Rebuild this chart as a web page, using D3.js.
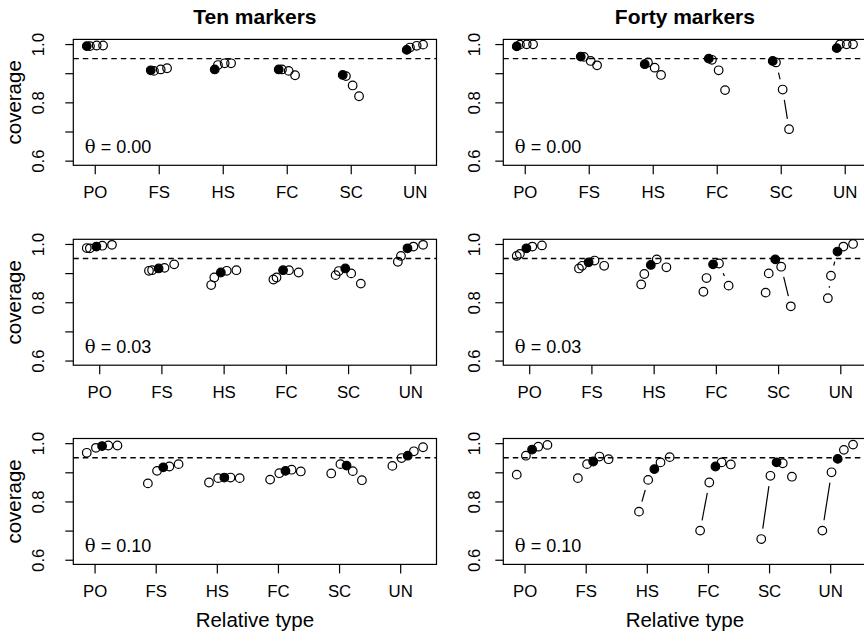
<!DOCTYPE html>
<meta charset="utf-8">
<style>
    body { margin: 0; background: #fff; }
    text { font-family: "Liberation Sans", Arial, sans-serif; fill: #000; }
    .tick text { font-size: 16.8px; }
</style>
<body>
<script src="https://d3js.org/d3.v7.min.js"></script>
<script>
    // groups on the x axis
    const groups = ["PO", "FS", "HS", "FC", "SC", "UN"];
    const colTitles = ["Ten markers", "Forty markers"];
    const thetaLabels = ["0.00", "0.03", "0.10"];
    const yTicks = [0.6, 0.7, 0.8, 0.9, 1.0];

    // horizontal offset of each point inside a group, one list per row
    const offsetsRow1 = [-0.125, -0.075, 0.03, 0.13];
    const offsetsRow2 = [-0.20, -0.15, -0.045, 0.05, 0.205];
    const offsetsRow3 = [-0.128, 0.022, 0.123, 0.224, 0.374];
    // which point is drawn solid, per row
    const filledIndex = [0, 2, 2];

    // coverage, one list per group (PO, FS, HS, FC, SC, UN)
    const ten00 = [
        [0.993, 0.993, 0.995, 0.995],
        [0.910, 0.908, 0.913, 0.917],
        [0.913, 0.928, 0.934, 0.934],
        [0.913, 0.913, 0.908, 0.893],
        [0.894, 0.890, 0.858, 0.821],
        [0.980, 0.988, 0.994, 0.998]
    ];
    const forty00 = [
        [0.992, 0.998, 0.999, 0.999],
        [0.957, 0.956, 0.942, 0.927],
        [0.931, 0.937, 0.919, 0.894],
        [0.950, 0.946, 0.910, 0.842],
        [0.942, 0.937, 0.844, 0.708],
        [0.986, 0.999, 0.999, 0.999]
    ];
    const ten03 = [
        [0.986, 0.985, 0.991, 0.994, 0.997],
        [0.908, 0.910, 0.916, 0.918, 0.930],
        [0.859, 0.885, 0.902, 0.908, 0.910],
        [0.878, 0.885, 0.910, 0.910, 0.902],
        [0.893, 0.907, 0.916, 0.899, 0.864],
        [0.939, 0.959, 0.985, 0.991, 0.997]
    ];
    const forty03 = [
        [0.959, 0.966, 0.985, 0.991, 0.995],
        [0.916, 0.925, 0.937, 0.943, 0.925],
        [0.861, 0.897, 0.928, 0.947, 0.920],
        [0.836, 0.883, 0.930, 0.933, 0.857],
        [0.833, 0.899, 0.947, 0.922, 0.786],
        [0.814, 0.891, 0.974, 0.991, 1.000]
    ];
    const ten10 = [
        [0.967, 0.984, 0.990, 0.992, 0.992],
        [0.862, 0.905, 0.917, 0.920, 0.928],
        [0.865, 0.880, 0.882, 0.882, 0.880],
        [0.875, 0.897, 0.905, 0.909, 0.903],
        [0.896, 0.928, 0.923, 0.904, 0.873],
        [0.922, 0.949, 0.957, 0.972, 0.986]
    ];
    const forty10 = [
        [0.892, 0.957, 0.978, 0.988, 0.994],
        [0.880, 0.928, 0.937, 0.954, 0.945],
        [0.765, 0.874, 0.911, 0.934, 0.952],
        [0.700, 0.865, 0.920, 0.934, 0.927],
        [0.671, 0.888, 0.934, 0.931, 0.885],
        [0.700, 0.900, 0.946, 0.977, 0.995]
    ];

    const rows = [
        { offsets: offsetsRow1, data: [ten00, forty00] },
        { offsets: offsetsRow2, data: [ten03, forty03] },
        { offsets: offsetsRow3, data: [ten10, forty10] }
    ];

    let width = 864, height = 636;
    let boxLeft = [73.3, 503.3];
    let boxTop = [39.4, 239.3, 438.5];
    let boxW = 363.2, boxH = 125.9;
    let radius = 4.3;
    let gap = 10.5;   // gap kept around the points by the joining lines

    let svg = d3.select("body").append("svg")
        .attr("width", width)
        .attr("height", height);

    // R style: extend the data range by 4% on each side
    function padded(lo, hi) {
        let d = (hi - lo) * 0.04;
        return [lo - d, hi + d];
    }

    rows.forEach(function(row, r) {
        let xs = [];
        groups.forEach(function(g, gi) {
            row.offsets.forEach(o => xs.push(gi + 1 + o));
        });
        let xDom = padded(d3.min(xs), d3.max(xs));

        row.data.forEach(function(series, c) {
            let x = d3.scaleLinear().domain(xDom).range([0, boxW]);
            let y = d3.scaleLinear().domain(padded(0.6, 1.0)).range([boxH, 0]);

            let g = svg.append("g")
                .attr("transform", "translate(" + boxLeft[c] + "," + boxTop[r] + ")");

            // x axis
            let xAxis = g.append("g")
                .attr("transform", "translate(0," + boxH + ")")
                .call(d3.axisBottom(x)
                    .tickValues(d3.range(1, groups.length + 1))
                    .tickFormat(d => groups[d - 1])
                    .tickSize(9)
                    .tickPadding(8));
            xAxis.select(".domain").remove();
            xAxis.selectAll(".tick line").attr("stroke", "#000").attr("stroke-width", 1.2);
            xAxis.selectAll(".tick text").attr("dy", "0.95em");

            // y axis, labels turned like R's default
            let yAxis = g.append("g")
                .call(d3.axisLeft(y)
                    .tickValues(yTicks)
                    .tickFormat(d => (Math.round(d * 10) % 2 === 0) ? d3.format(".1f")(d) : "")
                    .tickSize(8));
            yAxis.select(".domain").remove();
            yAxis.selectAll(".tick line").attr("stroke", "#000").attr("stroke-width", 1.2);
            yAxis.selectAll(".tick text")
                .attr("x", 0)
                .attr("y", c === 0 ? -29 : -23)
                .attr("dy", 0)
                .attr("text-anchor", "middle")
                .attr("transform", "rotate(-90)");

            // reference line at nominal coverage
            g.append("line")
                .attr("x1", 0).attr("x2", boxW)
                .attr("y1", y(0.95)).attr("y2", y(0.95))
                .attr("stroke", "#000")
                .attr("stroke-width", 1.4)
                .attr("stroke-dasharray", "5.5,4");

            // type = "b": segments with a gap around every point
            series.forEach(function(vals, gi) {
                let pts = vals.map((v, j) => [x(gi + 1 + row.offsets[j]), y(v)]);
                for (let j = 0; j < pts.length - 1; j++) {
                    let dx = pts[j + 1][0] - pts[j][0];
                    let dy = pts[j + 1][1] - pts[j][1];
                    let len = Math.sqrt(dx * dx + dy * dy);
                    if (len <= 2 * gap) continue;
                    let ux = dx / len, uy = dy / len;
                    g.append("line")
                        .attr("x1", pts[j][0] + ux * gap).attr("y1", pts[j][1] + uy * gap)
                        .attr("x2", pts[j + 1][0] - ux * gap).attr("y2", pts[j + 1][1] - uy * gap)
                        .attr("stroke", "#000")
                        .attr("stroke-width", 1.2);
                }
                g.selectAll(null)
                    .data(pts)
                    .join("circle")
                        .attr("cx", d => d[0])
                        .attr("cy", d => d[1])
                        .attr("r", radius)
                        .attr("fill", (d, j) => j === filledIndex[r] ? "#000" : "none")
                        .attr("stroke", "#000")
                        .attr("stroke-width", 1.2);
            });

            // box
            g.append("rect")
                .attr("width", boxW).attr("height", boxH)
                .attr("fill", "none")
                .attr("stroke", "#000")
                .attr("stroke-width", 1.2);

            // theta label
            let lab = g.append("text")
                .attr("x", 11.5)
                .attr("y", boxH - 12)
                .style("font-size", "18px");
            lab.append("tspan").style("font-family", "'DejaVu Serif', serif").text("\u03b8");
            lab.append("tspan").text(" = " + thetaLabels[r]);

            if (r === 0) {
                g.append("text")
                    .attr("x", boxW / 2)
                    .attr("y", -15)
                    .attr("text-anchor", "middle")
                    .style("font-size", "21px")
                    .style("font-weight", "bold")
                    .text(colTitles[c]);
            }
            if (r === rows.length - 1) {
                g.append("text")
                    .attr("x", boxW / 2)
                    .attr("y", boxH + 62.5)
                    .attr("text-anchor", "middle")
                    .style("font-size", "20.5px")
                    .text("Relative type");
            }
            if (c === 0) {
                g.append("text")
                    .attr("transform", "translate(-52," + (boxH / 2) + ") rotate(-90)")
                    .attr("text-anchor", "middle")
                    .style("font-size", "20.5px")
                    .text("coverage");
            }
        });
    });
</script>
</body>
